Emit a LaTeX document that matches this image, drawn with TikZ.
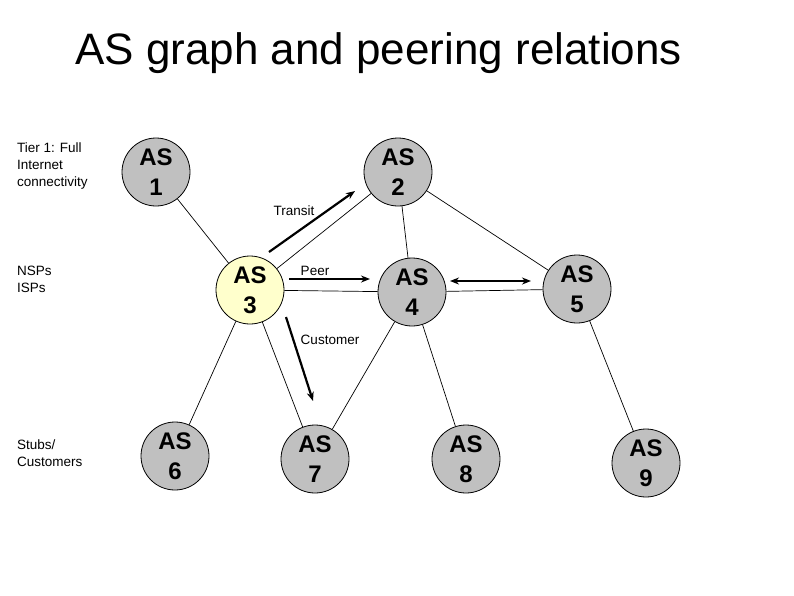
\documentclass[tikz,border=0pt]{standalone}
\usepackage{fontspec}
\setmainfont{Liberation Sans}
\usetikzlibrary{arrows.meta}
\definecolor{asgray}{RGB}{192,192,192}
\definecolor{asyellow}{RGB}{255,255,204}
\tikzset{
  asnode/.style={circle, draw=black, line width=0.8pt, fill=asgray, minimum size=68pt, inner sep=0pt,
    align=center, font=\fontsize{24}{30}\selectfont\bfseries},
  asyel/.style={asnode, fill=asyellow},
  link/.style={line width=0.7pt},
  relarrow/.style={line width=2.2pt, -{Stealth[length=9pt,width=7pt]}},
  relboth/.style={line width=2.2pt, {Stealth[length=9pt,width=7pt]}-{Stealth[length=9pt,width=7pt]}},
  lbl/.style={font=\fontsize{13.5}{17}\selectfont, align=left, anchor=north west, inner sep=0pt},
  rellbl/.style={font=\fontsize{13.5}{17}\selectfont, inner sep=0pt}
}
\begin{document}
\begin{tikzpicture}[x=1pt,y=-1pt]
\useasboundingbox (0,0) rectangle (794,595);
\node[font=\fontsize{44}{50}\selectfont, anchor=base west, inner sep=0pt] (title) at (75,64) {AS graph and peering relations};
\node[lbl] (tier) at (17,143) {Tier 1: Full\\Internet\\connectivity};
\node[lbl] (nsp) at (17,266) {NSPs\\ISPs};
\node[lbl] (stub) at (17,440) {Stubs/\\Customers};

\node[asnode] (as1) at (156,172) {AS\\1};
\node[asnode] (as2) at (398,172) {AS\\2};
\node[asyel] (as3) at (250,290) {AS\\3};
\node[asnode] (as4) at (412,292) {AS\\4};
\node[asnode] (as5) at (577,289) {AS\\5};
\node[asnode] (as6) at (175,456) {AS\\6};
\node[asnode] (as7) at (315,459) {AS\\7};
\node[asnode] (as8) at (466,459) {AS\\8};
\node[asnode] (as9) at (646,463) {AS\\9};

\draw[link] (as1) -- (as3);
\draw[link] (as2) -- (as3);
\draw[link] (as2) -- (as4);
\draw[link] (as2) -- (as5);
\draw[link] (as3) -- (as4);
\draw[link] (as4) -- (as5);
\draw[link] (as3) -- (as6);
\draw[link] (as3) -- (as7);
\draw[link] (as4) -- (as7);
\draw[link] (as4) -- (as8);
\draw[link] (as5) -- (as9);

\coordinate (t1) at (269,252); \coordinate (t2) at (355,191);
\coordinate (p1) at (289,279); \coordinate (p2) at (370,279);
\coordinate (b1) at (450,281); \coordinate (b2) at (531,281);
\coordinate (c1) at (286,317); \coordinate (c2) at (313,401);
\draw[relarrow] (t1) -- (t2);
\draw[relarrow] (p1) -- (p2);
\draw[relboth] (b1) -- (b2);
\draw[relarrow] (c1) -- (c2);

\node[rellbl] (transit) at (294,211) {Transit};
\node[rellbl] (peer) at (315,271) {Peer};
\node[rellbl] (cust) at (330,340) {Customer};
\end{tikzpicture}
\end{document}
